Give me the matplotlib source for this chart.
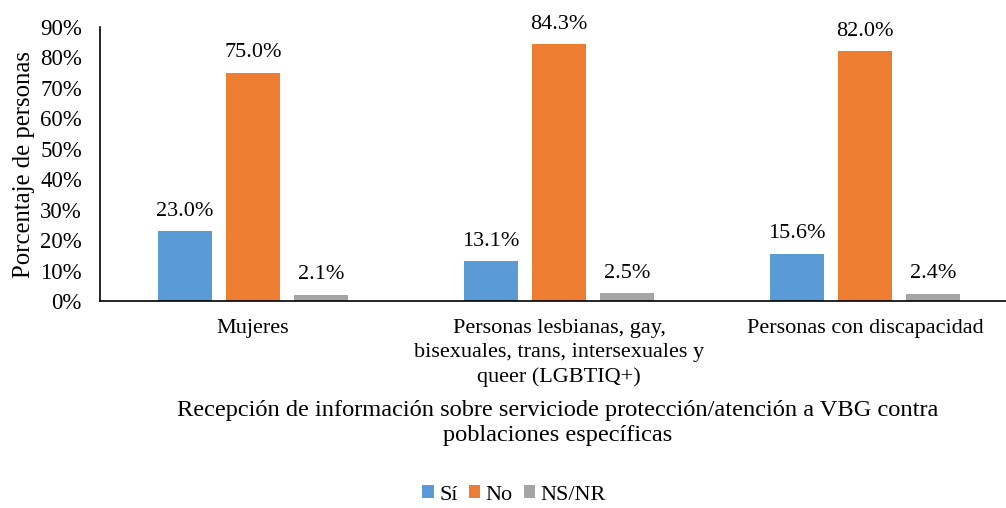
import matplotlib
matplotlib.use("Agg")
import matplotlib.pyplot as plt
import numpy as np
from matplotlib.ticker import PercentFormatter

plt.rcParams['font.family'] = ['Liberation Serif', 'DejaVu Serif']

categorias = ["Mujeres",
              "Personas lesbianas, gay,\nbisexuales, trans, intersexuales y\nqueer (LGBTIQ+)",
              "Personas con discapacidad"]
si = [23.0, 13.1, 15.6]
no = [75.0, 84.3, 82.0]
nsnr = [2.1, 2.5, 2.4]
series = [("Sí", si, "#5B9BD5"), ("No", no, "#ED7D31"), ("NS/NR", nsnr, "#A5A5A5")]

fig = plt.figure(figsize=(10.06, 5.08), dpi=100)
ax = fig.add_axes([100 / 1006, 207 / 508, 906 / 1006, 274 / 508])

x = np.arange(len(categorias))
ancho = 0.176
paso = 0.222
for i, (nombre, vals, color) in enumerate(series):
    pos = x + (i - 1) * paso
    barras = ax.bar(pos, vals, ancho, color=color, label=nombre)
    for b, v in zip(barras, vals):
        ax.annotate(f"{v:.1f}%", (b.get_x() + b.get_width() / 2, v),
                    xytext=(0, 11), textcoords="offset points",
                    ha="center", va="baseline", fontsize=16)

ax.set_xlim(-0.5, -0.5 + 906 / 306)
ax.set_ylim(0, 90)
ax.set_yticks(np.arange(0, 91, 10))
ax.yaxis.set_major_formatter(PercentFormatter(decimals=0))
ax.set_xticks(x)
ax.set_xticklabels(categorias, fontsize=16, linespacing=1.36)
ax.tick_params(axis="both", length=0)
ax.tick_params(axis="y", labelsize=16.5, pad=13)
ax.tick_params(axis="x", pad=13)
for s in ["top", "right"]:
    ax.spines[s].set_visible(False)
ax.spines["left"].set_linewidth(1.2)
ax.spines["bottom"].set_linewidth(1.2)

ax.set_ylabel("Porcentaje de personas", fontsize=17.8, labelpad=4)
fig.text(558 / 1006, 1 - 423 / 508,
         "Recepción de información sobre serviciode protección/atención a VBG contra\npoblaciones específicas",
         ha="center", va="center", fontsize=17.6, linespacing=1.27)

fig.legend(loc="center", bbox_to_anchor=(514 / 1006, 1 - 495 / 508), ncol=3,
           frameon=False, fontsize=16, handlelength=0.5, handleheight=0.5,
           handletextpad=0.25, columnspacing=0.5)

fig.savefig("out.png", dpi=100)
